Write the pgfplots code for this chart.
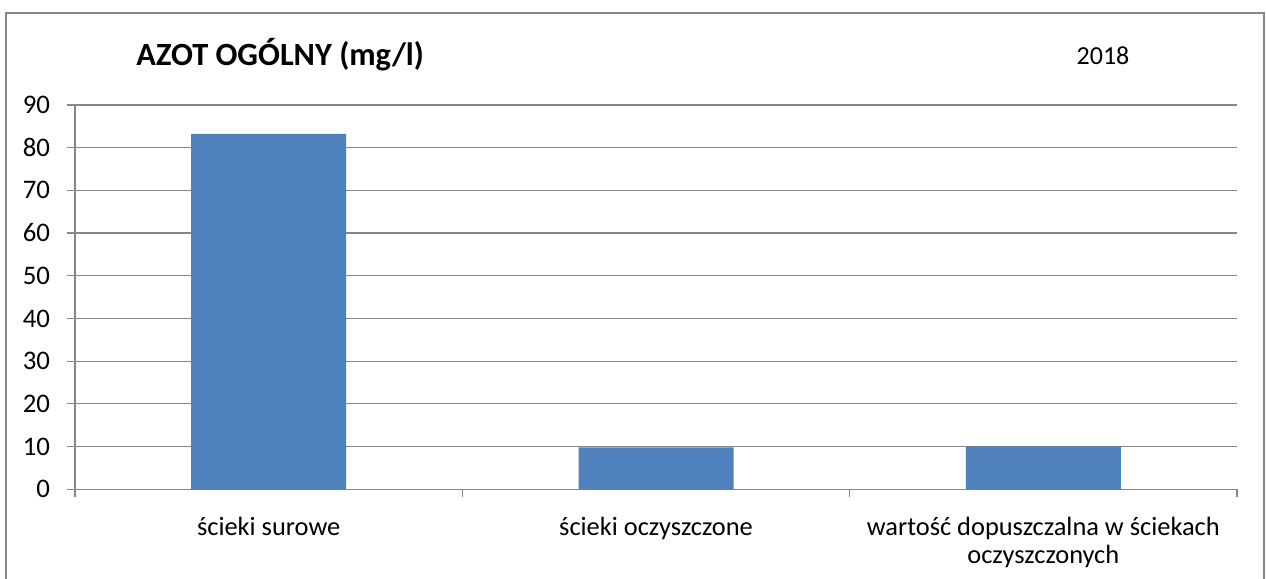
\documentclass[border=0pt]{standalone}
\usepackage{pgfplots}
\pgfplotsset{compat=1.18}
\usepackage{fontspec}
\setmainfont{Carlito}
\definecolor{barblue}{HTML}{4F81BD}
\definecolor{gridgray}{HTML}{868686}
\begin{document}
\begin{tikzpicture}
\useasboundingbox (0,0) rectangle (633pt,289.5pt);
\draw[gridgray, line width=0.8pt] (3pt,-5pt) -- (3pt,283pt) -- (632pt,283pt) -- (632pt,-5pt);
\begin{axis}[
  at={(37.5pt,44.85pt)}, anchor=south west,
  scale only axis, width=581pt, height=192.2pt,
  xmin=-0.5, xmax=2.5, ymin=0, ymax=90,
  axis lines=left, axis line style={-, gridgray, line width=0.6pt},
  ytick={0,10,...,90}, ymajorgrids, grid style={gridgray, line width=0.6pt},
  tick align=outside, major tick length=4pt,
  tick style={gridgray, line width=0.6pt},
  xtick={-0.5,0.5,1.5,2.5}, xticklabels={},
  extra x ticks={0,1,2},
  extra x tick labels={ścieki surowe, ścieki oczyszczone, {wartość dopuszczalna w ściekach\\oczyszczonych}},
  extra x tick style={major tick length=0pt, grid=none},
  xticklabel style={align=center, font=\fontsize{13.2}{13.8}\selectfont, anchor=north, yshift=-10.5pt},
  yticklabel style={font=\fontsize{13.4}{15}\selectfont, xshift=-5pt},
  /pgf/number format/assume math mode=true,
  clip=false,
]
\addplot[ybar, bar width=77.5pt, fill=barblue, draw=none] coordinates {(0,83.2) (1,9.8) (2,10)};
\end{axis}
\node[anchor=base west, inner sep=0, font=\bfseries\fontsize{16.2}{19}\selectfont] at (68pt,256.5pt) {AZOT OGÓLNY (mg/l)};
\node[anchor=base, inner sep=0, font=\fontsize{13}{15}\selectfont] at (551.5pt,257pt) {2018};
\end{tikzpicture}
\end{document}
